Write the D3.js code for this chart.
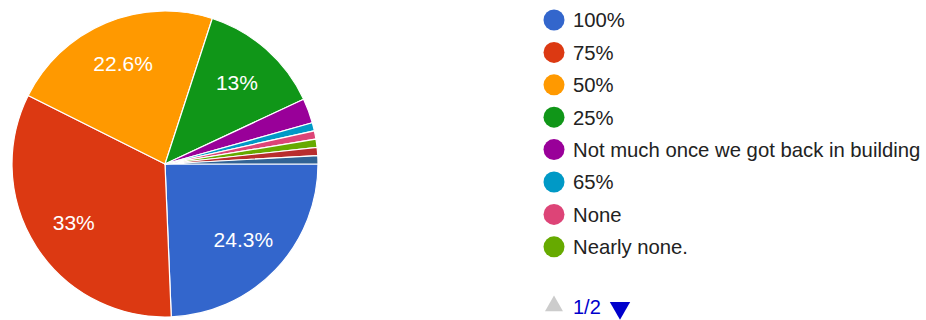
<!DOCTYPE html>
<html>
<head>
<meta charset="utf-8">
<script src="https://cdn.jsdelivr.net/npm/d3@7"></script>
<style>
  html, body { margin: 0; padding: 0; background: #fff; }
  svg { display: block; }
  text { font-family: Arial, "Liberation Sans", sans-serif; }
</style>
</head>
<body>
<svg id="chart" width="926" height="320"></svg>
<script>
// Survey responses (counts out of 115)
const categories = ["100%", "75%", "50%", "25%", "Not much once we got back in building",
                    "65%", "None", "Nearly none.", "Other (a)", "Other (b)"];
const counts = [28, 38, 26, 15, 3, 1, 1, 1, 1, 1];
const colors = ["#3366cc", "#dc3912", "#ff9900", "#109618", "#990099",
                "#0099c6", "#dd4477", "#66aa00", "#b82e2e", "#316395"];
const legendPageSize = 8;
const pagerLabel = "1/2";

const svg = d3.select("#chart");
const cx = 165, cy = 164, radius = 153;

const total = d3.sum(counts);
const data = categories.map((c, i) => ({ name: c, value: counts[i], color: colors[i] }));

const pie = d3.pie()
  .value(d => d.value)
  .sort(null)
  .startAngle(Math.PI / 2)
  .endAngle(Math.PI / 2 + 2 * Math.PI);

const arc = d3.arc().innerRadius(0).outerRadius(radius);
const labelArc = d3.arc().innerRadius(radius * 0.71).outerRadius(radius * 0.71);

const g = svg.append("g").attr("transform", `translate(${cx},${cy})`);
const arcs = pie(data);

g.selectAll("path.slice")
  .data(arcs)
  .join("path")
  .attr("class", "slice")
  .attr("d", arc)
  .attr("fill", d => d.data.color)
  .attr("stroke", "#fff")
  .attr("stroke-width", 1.2);

const fmt = v => {
  const p = Math.round(v / total * 1000) / 10;
  return (Number.isInteger(p) ? p.toFixed(0) : p.toFixed(1)) + "%";
};

g.selectAll("text.pct")
  .data(arcs.filter(d => d.data.value / total >= 0.05))
  .join("text")
  .attr("class", "pct")
  .attr("transform", d => `translate(${labelArc.centroid(d)})`)
  .attr("text-anchor", "middle")
  .attr("dy", "0.35em")
  .attr("fill", "#fff")
  .attr("font-size", 21)
  .text(d => fmt(d.data.value));

// Legend (first page)
const legendX = 554, legendY0 = 20, legendStep = 32.4;
const legend = svg.append("g");
const rows = legend.selectAll("g.row")
  .data(data.slice(0, legendPageSize))
  .join("g")
  .attr("class", "row")
  .attr("transform", (d, i) => `translate(${legendX},${legendY0 + i * legendStep})`);

rows.append("circle")
  .attr("r", 10.5)
  .attr("fill", d => d.color);

rows.append("text")
  .attr("x", 19)
  .attr("dy", "0.36em")
  .attr("font-size", 20.3)
  .attr("fill", "#222")
  .text(d => d.name);

// Pager
const pagerY = 307;
const pager = svg.append("g").attr("transform", `translate(${legendX},${pagerY})`);
pager.append("path")
  .attr("d", d3.symbol().type(d3.symbolTriangle).size(140)())
  .attr("transform", "translate(0,-1)")
  .attr("fill", "#cccccc");
pager.append("text")
  .attr("x", 19)
  .attr("dy", "0.36em")
  .attr("font-size", 20)
  .attr("fill", "#0000cc")
  .text(pagerLabel);
pager.append("path")
  .attr("d", d3.symbol().type(d3.symbolTriangle).size(180)())
  .attr("transform", "translate(66,1) rotate(180)")
  .attr("fill", "#0000cc");
</script>
</body>
</html>
